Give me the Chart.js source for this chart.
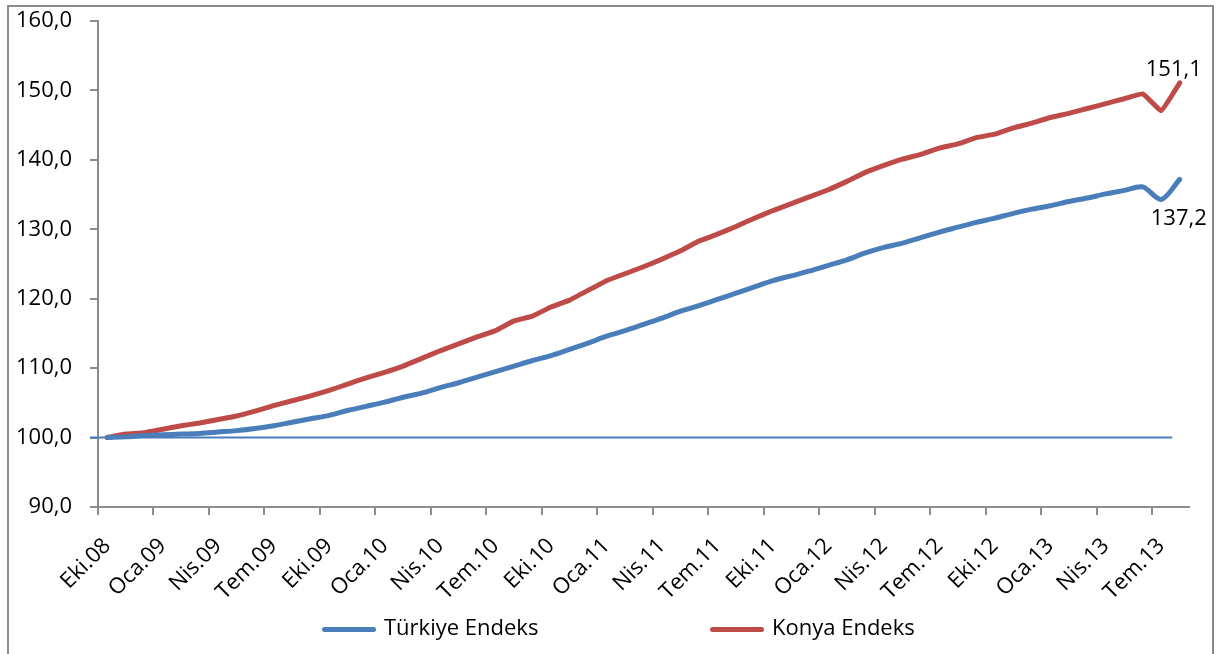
<!DOCTYPE html>
<html lang="tr">
<head>
  <meta charset="UTF-8">
  <title>Türkiye ve Konya Endeks</title>
  <script src="https://cdn.jsdelivr.net/npm/chart.js"></script>
  <style>
    body { margin: 0; background: #fff; }
    #wrap { position: relative; width: 1218px; height: 654px; overflow: hidden; font-family: "Open Sans", sans-serif; }
    #frame { position: absolute; left: 7px; top: 5px; width: 1207px; height: 700px; border: 2px solid #8c8c8c; box-sizing: border-box; }
    #chart { position: absolute; left: 0; top: 0; }
    .leg { position: absolute; top: 611px; font-size: 22px; color: #000; line-height: 30px; }
    .leg span.ln { display: inline-block; width: 54px; height: 5px; border-radius: 3px; vertical-align: middle; margin-right: 8px; }
  </style>
</head>
<body>
<div id="wrap">
  <div id="frame"></div>
  <canvas id="chart" width="1218" height="654"></canvas>
  <div class="leg" style="left:322px"><span class="ln" style="background:#4a7ebb"></span>Türkiye Endeks</div>
  <div class="leg" style="left:710px"><span class="ln" style="background:#be4b48"></span>Konya Endeks</div>
</div>
<script>
// aylar (Eki.08 - Ağu.13)
const labels = [
  'Eki.08','Kas.08','Ara.08',
  'Oca.09','Şub.09','Mar.09','Nis.09','May.09','Haz.09','Tem.09','Ağu.09','Eyl.09','Eki.09','Kas.09','Ara.09',
  'Oca.10','Şub.10','Mar.10','Nis.10','May.10','Haz.10','Tem.10','Ağu.10','Eyl.10','Eki.10','Kas.10','Ara.10',
  'Oca.11','Şub.11','Mar.11','Nis.11','May.11','Haz.11','Tem.11','Ağu.11','Eyl.11','Eki.11','Kas.11','Ara.11',
  'Oca.12','Şub.12','Mar.12','Nis.12','May.12','Haz.12','Tem.12','Ağu.12','Eyl.12','Eki.12','Kas.12','Ara.12',
  'Oca.13','Şub.13','Mar.13','Nis.13','May.13','Haz.13','Tem.13','Ağu.13'
];

const turkiye = [
  100.0, 100.1, 100.3,
  100.4, 100.5, 100.6, 100.8, 101.0, 101.3, 101.7, 102.2, 102.7, 103.2, 103.9, 104.5,
  105.1, 105.8, 106.4, 107.2, 107.9, 108.7, 109.5, 110.3, 111.1, 111.8, 112.7, 113.6,
  114.6, 115.4, 116.3, 117.2, 118.2, 119.0, 119.9, 120.8, 121.7, 122.6, 123.3, 124.0,
  124.8, 125.6, 126.6, 127.4, 128.0, 128.8, 129.6, 130.3, 131.0, 131.6, 132.3, 132.9,
  133.4, 134.0, 134.5, 135.1, 135.6, 136.1, 134.3, 137.2
];

const konya = [
  100.0, 100.5, 100.7,
  101.2, 101.7, 102.1, 102.6, 103.1, 103.8, 104.6, 105.3, 106.0, 106.8, 107.7, 108.6,
  109.4, 110.3, 111.4, 112.5, 113.5, 114.5, 115.4, 116.8, 117.5, 118.8, 119.8, 121.2,
  122.6, 123.6, 124.6, 125.7, 126.9, 128.3, 129.3, 130.4, 131.6, 132.7, 133.7, 134.7,
  135.7, 136.9, 138.2, 139.2, 140.1, 140.8, 141.7, 142.3, 143.2, 143.7, 144.6, 145.3,
  146.1, 146.7, 147.4, 148.1, 148.8, 149.5, 147.1, 151.1
];

const baseValue = 100;
const fmt = v => v.toFixed(1).replace('.', ',');
const FONT = '"Open Sans", sans-serif';
const axisGray = '#8c8c8c';

// 100 çizgisi
const baseLine = {
  id: 'baseLine',
  beforeDatasetsDraw(chart) {
    const { ctx, scales: { x, y }, chartArea } = chart;
    const py = y.getPixelForValue(baseValue);
    ctx.save();
    ctx.strokeStyle = '#4a7ebb';
    ctx.lineWidth = 2;
    ctx.beginPath();
    ctx.moveTo(chartArea.left - 8, py);
    ctx.lineTo(x.getPixelForValue(labels.length - 2) + 11, py);
    ctx.stroke();
    ctx.restore();
  }
};

// son değer etiketleri
const lastLabels = {
  id: 'lastLabels',
  afterDatasetsDraw(chart) {
    const { ctx } = chart;
    ctx.save();
    ctx.font = '22px ' + FONT;
    ctx.fillStyle = '#000';
    ctx.textAlign = 'center';
    ctx.textBaseline = 'middle';
    const kp = chart.getDatasetMeta(1).data[konya.length - 1];
    ctx.fillText(fmt(konya[konya.length - 1]), kp.x - 6, kp.y - 13);
    const tp = chart.getDatasetMeta(0).data[turkiye.length - 1];
    ctx.fillText(fmt(turkiye[turkiye.length - 1]), tp.x - 1, tp.y + 39);
    ctx.restore();
  }
};

new Chart(document.getElementById('chart'), {
  type: 'line',
  data: {
    labels: labels,
    datasets: [
      { label: 'Türkiye Endeks', data: turkiye, borderColor: '#4a7ebb', borderWidth: 5, pointRadius: 0, tension: 0.3, borderCapStyle: 'round' },
      { label: 'Konya Endeks', data: konya, borderColor: '#be4b48', borderWidth: 5, pointRadius: 0, tension: 0.1, borderCapStyle: 'round' }
    ]
  },
  options: {
    responsive: false,
    animation: false,
    layout: { padding: { left: 0, top: 21, right: 29, bottom: 0 } },
    plugins: { legend: { display: false }, tooltip: { enabled: false } },
    scales: {
      x: {
        offset: true,
        grid: {
          offset: true,
          drawOnChartArea: false,
          tickLength: 8,
          lineWidth: 2,
          color: c => (c.type === 'tick' && c.index % 3 === 0) ? axisGray : 'rgba(0,0,0,0)'
        },
        border: { color: axisGray, width: 2 },
        ticks: {
          autoSkip: false,
          minRotation: 45,
          maxRotation: 45,
          padding: 18,
          color: '#000',
          font: { family: FONT, size: 22 },
          callback: (v, i) => i % 3 === 0 ? labels[i] : ''
        },
        afterFit: s => { s.height = 147; }
      },
      y: {
        min: 90,
        max: 160,
        ticks: {
          stepSize: 10,
          padding: 18,
          color: '#000',
          font: { family: FONT, size: 22 },
          callback: v => fmt(v)
        },
        grid: { drawOnChartArea: false, tickLength: 8, lineWidth: 2, color: axisGray },
        border: { color: axisGray, width: 2 },
        afterFit: s => { s.width = 98; s.paddingTop = 0; s.paddingBottom = 0; }
      }
    }
  },
  plugins: [baseLine, lastLabels]
});
</script>
</body>
</html>
